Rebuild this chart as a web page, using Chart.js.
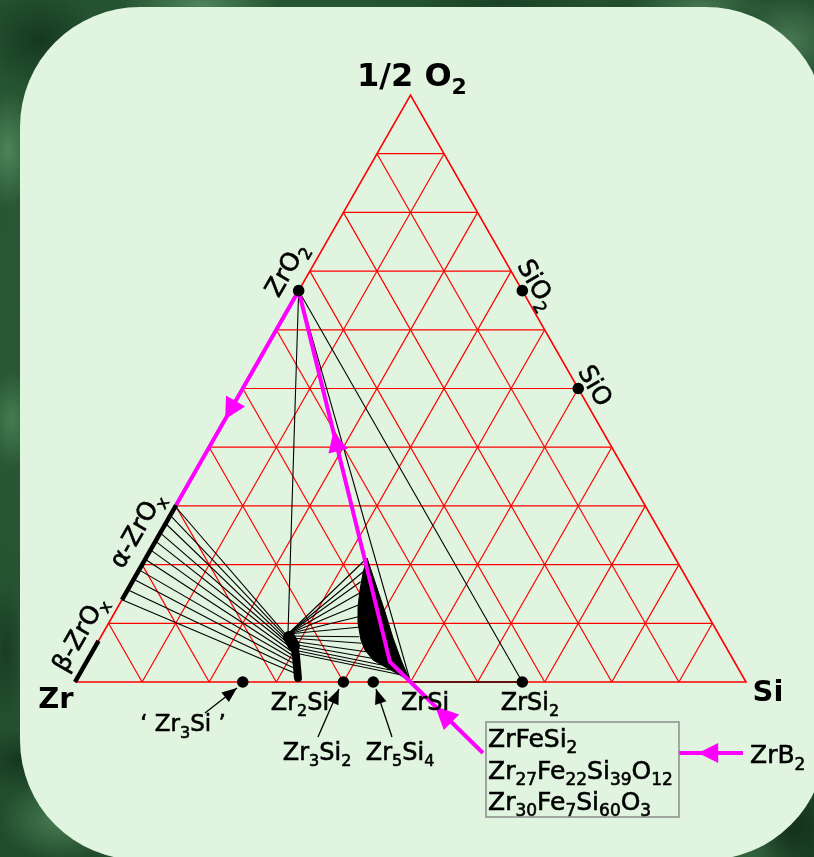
<!DOCTYPE html>
<html><head><meta charset="utf-8">
<script src="https://cdn.jsdelivr.net/npm/chart.js@4.4.1/dist/chart.umd.min.js"></script>
<style>
html,body{margin:0;padding:0;width:814px;height:857px;overflow:hidden;}
body{
 background-color:#22502f;
 background-image:
  radial-gradient(ellipse 30px 60px at 8px 150px, rgba(110,170,120,.55), transparent),
  radial-gradient(ellipse 25px 50px at 12px 420px, rgba(100,160,110,.5), transparent),
  radial-gradient(ellipse 20px 70px at 6px 650px, rgba(20,50,30,.7), transparent),
  radial-gradient(ellipse 60px 40px at 60px 820px, rgba(110,170,120,.5), transparent),
  radial-gradient(ellipse 50px 30px at 20px 760px, rgba(15,45,25,.7), transparent),
  radial-gradient(ellipse 80px 20px at 200px 4px, rgba(120,180,130,.5), transparent),
  radial-gradient(ellipse 90px 15px at 500px 3px, rgba(20,55,30,.6), transparent),
  radial-gradient(ellipse 70px 18px at 700px 5px, rgba(110,170,120,.45), transparent),
  radial-gradient(ellipse 60px 50px at 40px 40px, rgba(15,45,25,.7), transparent),
  radial-gradient(ellipse 60px 50px at 790px 40px, rgba(120,175,130,.45), transparent),
  radial-gradient(ellipse 50px 60px at 790px 830px, rgba(15,40,22,.75), transparent),
  radial-gradient(ellipse 50px 40px at 760px 850px, rgba(90,150,100,.5), transparent),
  radial-gradient(circle at 30% 40%, #2c6039, #1d4528);
}
#panel{position:absolute;left:20px;top:7px;width:806px;height:853px;border-radius:120px;background:#e0f4e0;}
#c{position:absolute;left:0;top:0;}
</style></head><body>
<div id="panel"></div>
<canvas id="c" width="814" height="857"></canvas>
<script>
// ---------- DATA (ternary compositions: fraction Si, fraction O; Zr = rest) ----------
const gridTicks = [0.1,0.2,0.3,0.4,0.5,0.6,0.7,0.8,0.9];

const dotNames = ['ZrO2','SiO2','SiO','Zr3Si','Zr3Si2','Zr5Si4','ZrSi2'];
const dotSi = [0, 1/3, 0.5, 0.25, 0.4, 4/9, 2/3];
const dotO  = [2/3, 2/3, 0.5, 0, 0, 0, 0];

// alpha-ZrOx solid solution (on Zr–O edge) and beta-ZrOx
const alphaO = [0.14, 0.3015];
const betaO  = [0, 0.07];

// tie lines alpha-ZrOx -> Zr2Si(O)
const alphaTieO     = [0.299,0.284,0.270,0.254,0.240,0.225,0.209,0.191,0.175,0.157,0.140];
const alphaTieEndSi = [0.2767,0.2784,0.2825,0.2866,0.2906,0.2955,0.3004,0.3053,0.3125,0.3184,0.3240];
const alphaTieEndO  = [0.0784,0.0750,0.0698,0.0647,0.0596,0.0528,0.0460,0.0392,0.0307,0.0221,0.0136];

// tie lines Zr2Si(O) -> ZrSi(O)
const fanStartSi = [0.2765,0.2765,0.2765,0.2765,0.2765,0.2765,0.2765,0.2797,0.2829,0.2870,0.2911,0.2951,0.2991,0.3032];
const fanStartO  = [0.0818,0.0818,0.0818,0.0818,0.0818,0.0818,0.0818,0.0784,0.0750,0.0698,0.0647,0.0596,0.0545,0.0494];
const fanEndSi   = [0.3283,0.3357,0.3403,0.3481,0.3566,0.3666,0.3756,0.3851,0.3943,0.4079,0.4220,0.4426,0.4592,0.4809];
const fanEndO    = [0.2078,0.1879,0.1709,0.1511,0.1312,0.1112,0.0932,0.0772,0.0659,0.0516,0.0404,0.0290,0.0204,0.0119];

// ZrSi(O) region outline
const regionSi = [0.3296,0.3660,0.4024,0.4364,0.4671,0.5,0.4784,0.4530,0.4254,0.4049,0.3904,0.3715,0.3579,0.3464,0.3364];
const regionO  = [0.2112,0.1652,0.1193,0.0750,0.0375,0,0.0119,0.0239,0.0375,0.0545,0.0716,0.1005,0.1278,0.1567,0.1857];

// Zr2Si(O) solubility band
const blobSi = [0.2812,0.2949,0.3072,0.3289];
const blobO  = [0.0784,0.0630,0.0443,0.0068];
const blobTopSi = [0.2806,0.2957];
const blobTopO  = [0.0767,0.0613];

// tie lines from ZrO2
const zro2TieSi = [0.2757, 0.5, 2/3];
const zro2TieO  = [0.0835, 0, 0];

// ZrSi – ZrSi2 tie line
const zrsiTieSi = [0.5, 2/3];

// diffusion / reaction path (magenta)
const pathSi = [0, 0, 0.4524, 0.5];
const pathO  = [0.3015, 2/3, 0.0341, 0];

// ---------- helpers ----------
const T = (si,o) => ({x: si + o/2, y: o});
const RED = '#ff0000', BLACK = '#000000', MAG = '#ff00ff';

// annotation geometry (cartesian plot space)
const boxConn   = {x:0.6080, y:-0.1210};
const boxRect   = {x0:0.6125, x1:0.9001, y0:-0.0681, y1:-0.2300};
const zrb2Line  = [{x:0.9955,y:-0.1210},{x:0.9001,y:-0.1210}];
const pointerFrom = [{x:0.1937,y:-0.0528},{x:0.3621,y:-0.0937},{x:0.4724,y:-0.0937}];
const pointerTo   = [{x:0.2414,y:-0.0102},{x:0.3934,y:-0.0119},{x:0.4486,y:-0.0119}];

const labels = [
 {x:0.5022,y:1.0358,segs:[['1/2 O',0],['2',1]],size:32,bold:true},
 {x:-0.0283,y:-0.0256,segs:[['Zr',0]],size:29,bold:true},
 {x:1.0328,y:-0.0136,segs:[['Si',0]],size:29,bold:true},
 {x:0.3130,y:0.7040,segs:[['ZrO',0],['2',1]],size:25,rot:-60},
 {x:0.6900,y:0.6780,segs:[['SiO',0],['2',1]],size:25,rot:60},
 {x:0.7765,y:0.5060,segs:[['SiO',0]],size:25,rot:60},
 {x:0.0900,y:0.2600,segs:[['\u03b1-ZrO',0],['x',1]],size:25,rot:-60},
 {x:0.0050,y:0.0830,segs:[['\u03b2-ZrO',0],['x',1]],size:25,rot:-60},
 {x:0.1610,y:-0.0698,segs:[['\u2018 Zr',0],['3',1],['Si \u2019',0]],size:23},
 {x:0.3353,y:-0.0324,segs:[['Zr',0],['2',1],['Si',0]],size:24},
 {x:0.5216,y:-0.0324,segs:[['ZrSi',0]],size:24},
 {x:0.6781,y:-0.0324,segs:[['ZrSi',0],['2',1]],size:24},
 {x:0.3607,y:-0.1175,segs:[['Zr',0],['3',1],['Si',0],['2',1]],size:24},
 {x:0.4844,y:-0.1175,segs:[['Zr',0],['5',1],['Si',0],['4',1]],size:24},
 {x:0.6155,y:-0.0945,segs:[['ZrFeSi',0],['2',1]],size:25,align:'left'},
 {x:0.6155,y:-0.1491,segs:[['Zr',0],['27',1],['Fe',0],['22',1],['Si',0],['39',1],['O',0],['12',1]],size:25,align:'left'},
 {x:0.6155,y:-0.2019,segs:[['Zr',0],['30',1],['Fe',0],['7',1],['Si',0],['60',1],['O',0],['3',1]],size:25,align:'left'},
 {x:1.0060,y:-0.1227,segs:[['ZrB',0],['2',1]],size:25,align:'left'}
];

// ---------- datasets ----------
const datasets = [];
function addLine(points, color, width, order, extra) {
  datasets.push(Object.assign({
    data: points, showLine: true, borderColor: color, borderWidth: width,
    pointRadius: 0, pointHoverRadius: 0, fill: false, order: order, tension: 0
  }, extra || {}));
}
gridTicks.forEach(c => {
  addLine([T(0,c), T(1-c,c)], RED, 1.2, 30);
  addLine([T(c,0), T(c,1-c)], RED, 1.2, 30);
  addLine([T(1-c,0), T(0,1-c)], RED, 1.2, 30);
});
addLine([T(0,0), T(1,0), T(0,1), T(0,0)], RED, 1.6, 29);

alphaTieO.forEach((o,i) => addLine([T(0,o), T(alphaTieEndSi[i], alphaTieEndO[i])], BLACK, 1.1, 20));
fanStartSi.forEach((s,i) => addLine([T(s,fanStartO[i]), T(fanEndSi[i], fanEndO[i])], BLACK, 1.1, 20));
zro2TieSi.forEach((s,i) => addLine([T(0,2/3), T(s, zro2TieO[i])], BLACK, 1.1, 20));
addLine([T(zrsiTieSi[0],0), T(zrsiTieSi[1],0)], '#3a0000', 1.6, 19);

addLine(regionSi.map((s,i)=>T(s,regionO[i])).concat([T(regionSi[0],regionO[0])]), BLACK, 1, 15,
  {fill:'shape', backgroundColor: BLACK});
addLine(blobSi.map((s,i)=>T(s,blobO[i])), BLACK, 8, 14, {borderCapStyle:'round', borderJoinStyle:'round'});
addLine(blobTopSi.map((s,i)=>T(s,blobTopO[i])), BLACK, 12, 14, {borderCapStyle:'round'});
addLine([T(0,alphaO[0]), T(0,alphaO[1])], BLACK, 4.5, 13);
addLine([T(0,betaO[0]), T(0,betaO[1])], BLACK, 4.5, 13);

addLine(pathSi.map((s,i)=>T(s,pathO[i])).concat([boxConn]), MAG, 4, 5);
addLine(zrb2Line, MAG, 4, 5);
pointerFrom.forEach((p,i) => addLine([p, pointerTo[i]], BLACK, 1.3, 5));

datasets.push({
  data: dotSi.map((s,i)=>T(s,dotO[i])), showLine:false, pointRadius:5.8, pointHoverRadius:5.8,
  backgroundColor: BLACK, borderColor: BLACK, borderWidth: 0, order: 1
});

// arrowheads: position along a segment (fraction t from 'from'), pointing from->to
const arrowSpecs = [
  {from:T(pathSi[1],pathO[1]), to:T(pathSi[0],pathO[0]), t:0.6, color:MAG, len:21, hw:11},
  {from:T(pathSi[2],pathO[2]), to:T(pathSi[1],pathO[1]), t:0.62, color:MAG, len:20, hw:10},
  {from:boxConn, to:T(pathSi[3],pathO[3]), t:0.66, color:MAG, len:23, hw:11},
  {from:zrb2Line[0], to:zrb2Line[1], t:0.70, color:MAG, len:20, hw:10},
  {from:pointerFrom[0], to:pointerTo[0], t:1, color:BLACK, len:15, hw:6},
  {from:pointerFrom[1], to:pointerTo[1], t:1, color:BLACK, len:15, hw:6},
  {from:pointerFrom[2], to:pointerTo[2], t:1, color:BLACK, len:15, hw:6}
];

const FAM = '"DejaVu Sans", "Liberation Sans", sans-serif';
const overlay = {
  id:'overlay',
  afterDatasetsDraw(chart){
    const ctx = chart.ctx, xs = chart.scales.x, ys = chart.scales.y;
    const P = p => [xs.getPixelForValue(p.x), ys.getPixelForValue(p.y)];
    ctx.save();
    // box
    const b0 = P({x:boxRect.x0,y:boxRect.y0}), b1 = P({x:boxRect.x1,y:boxRect.y1});
    ctx.strokeStyle = '#8c8c8c'; ctx.lineWidth = 1.5;
    ctx.strokeRect(b0[0], b0[1], b1[0]-b0[0], b1[1]-b0[1]);
    // arrows
    arrowSpecs.forEach(a => {
      const f = P(a.from), g = P(a.to);
      let dx = g[0]-f[0], dy = g[1]-f[1];
      const L = Math.hypot(dx,dy); dx/=L; dy/=L;
      const tx = f[0] + (g[0]-f[0])*a.t, ty = f[1] + (g[1]-f[1])*a.t;
      const bx = tx - dx*a.len, by = ty - dy*a.len;
      ctx.fillStyle = a.color;
      ctx.beginPath();
      ctx.moveTo(tx,ty);
      ctx.lineTo(bx - dy*a.hw, by + dx*a.hw);
      ctx.lineTo(bx + dy*a.hw, by - dx*a.hw);
      ctx.closePath(); ctx.fill();
    });
    // labels
    ctx.fillStyle = '#000'; ctx.strokeStyle = '#000'; ctx.lineWidth = 0.6;
    ctx.textBaseline = 'alphabetic'; ctx.textAlign = 'left';
    labels.forEach(l => {
      const c = P(l), S = l.size, s = Math.round(S*0.68), w = l.bold ? 'bold ' : '';
      const widths = l.segs.map(sg => { ctx.font = w + (sg[1]?s:S) + 'px ' + FAM; return ctx.measureText(sg[0]).width; });
      const tot = widths.reduce((a,b)=>a+b,0);
      ctx.save();
      ctx.translate(c[0], c[1]);
      if (l.rot) ctx.rotate(l.rot*Math.PI/180);
      let x0 = l.align === 'left' ? 0 : -tot/2;
      const base = 0.365*S;
      l.segs.forEach((sg,i) => {
        ctx.font = w + (sg[1]?s:S) + 'px ' + FAM;
        const yy = sg[1] ? base + 0.27*S : base;
        ctx.fillText(sg[0], x0, yy);
        if (!l.bold) ctx.strokeText(sg[0], x0, yy);
        x0 += widths[i];
      });
      ctx.restore();
    });
    ctx.restore();
  }
};

new Chart(document.getElementById('c'), {
  type: 'scatter',
  data: { datasets },
  options: {
    responsive: false, devicePixelRatio: 1, animation: false, events: [],
    layout: { padding: 0, autoPadding: false },
    plugins: { legend: {display:false}, tooltip: {enabled:false} },
    scales: {
      x: { type:'linear', display:false, min:-0.11177, max:1.10134 },
      y: { type:'linear', display:false, min:-0.29813, max:1.16184 }
    }
  },
  plugins: [overlay]
});
</script>
</body></html>
